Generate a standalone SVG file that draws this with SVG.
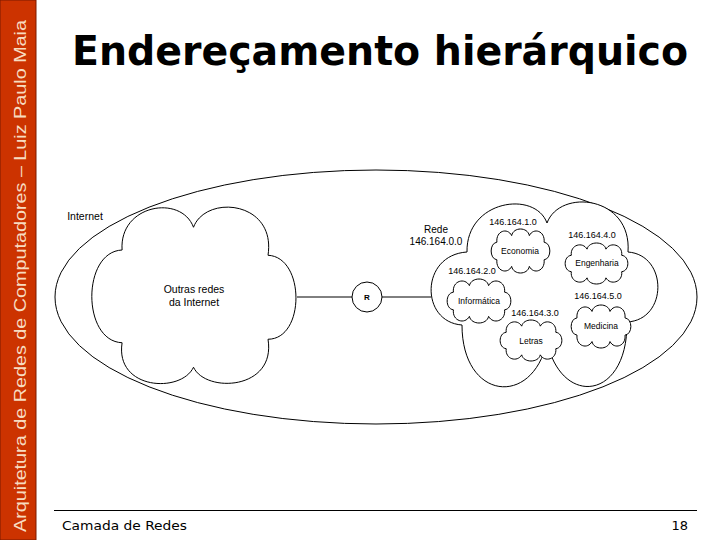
<svg xmlns="http://www.w3.org/2000/svg" xmlns:xlink="http://www.w3.org/1999/xlink" width="720" height="540" viewBox="0 0 720 540">
<style>
.ln{fill:none;stroke:#000;stroke-width:1}
.cl{fill:#fff;stroke:#000;stroke-width:1;vector-effect:non-scaling-stroke}
.t{font-family:"Liberation Sans",Arial,sans-serif;fill:#000;text-anchor:middle}
.s9{font-size:9px}
.s85{font-size:8.5px}
.s10{font-size:10.5px}
.s100{font-size:10px}
</style>
<defs>
<symbol id="bigcloud" viewBox="0 0 100 100" preserveAspectRatio="none" overflow="visible">
<path class="cl" d="M15.5,24 C14,-2 44,-8 50,11 C56,-8 90,-4 86,27 C104,28 104,75 86,75 C90,104 56,106 50,91 C44,106 12,104 15.5,77 C-4,76 -4,25 15.5,24 Z"/>
</symbol>
<symbol id="smallcloud" viewBox="0 0 100 100" preserveAspectRatio="none" overflow="visible">
<path class="cl" d="M10,30 C8,4 28,-4 35,15 C38,-5 62,-5 65,15 C72,-4 92,4 90,30 C103,32 103,68 90,70 C92,96 72,104 65,85 C62,105 38,105 35,85 C28,104 8,96 10,70 C-3,68 -3,32 10,30 Z"/>
</symbol>
</defs>
<rect width="720" height="540" fill="#fff"/>
<g id="sidebar">
<rect x="0" y="0" width="36" height="540" fill="#CC3300" stroke="#7A1A00" stroke-width="1"/>
<text transform="translate(26,532) rotate(-90)" font-family="'Liberation Sans',Arial,sans-serif" font-size="16" fill="#F7DCC0" textLength="512" lengthAdjust="spacingAndGlyphs">Arquitetura de Redes de Computadores – Luiz Paulo Maia</text>
</g>
<g id="title">
<text x="72" y="65" font-family="'DejaVu Sans',Verdana,sans-serif" font-weight="bold" font-size="40" fill="#000" textLength="616" lengthAdjust="spacingAndGlyphs">Endereçamento hierárquico</text>
</g>
<g id="internet">
<ellipse class="ln" cx="376" cy="297" rx="321" ry="127"/>
<text class="t s10" x="85" y="220">Internet</text>
</g>
<g id="connectors">
<line class="ln" x1="297" y1="297" x2="352" y2="297"/>
<line class="ln" x1="382" y1="297" x2="431" y2="297"/>
</g>
<g id="outras">
<use xlink:href="#bigcloud" x="90" y="208" width="207" height="175"/>
<text class="t s10" x="194" y="293">Outras redes</text>
<text class="t s10" x="194" y="306">da Internet</text>
</g>
<g id="router">
<circle cx="367" cy="297" r="15" fill="#fff" stroke="#000" stroke-width="1"/>
<text x="367" y="300" font-family="'Liberation Sans',Arial,sans-serif" font-size="8" font-weight="bold" text-anchor="middle">R</text>
</g>
<g id="rede">
<path class="cl" d="M467,252 C466,200 535,190 547,223 C560,188 632,196 628,252 C668,255 668,320 627,322 C628,400 562,408 547,342 C532,408 462,400 462,325 C420,322 420,255 467,252 Z"/>
<text class="t s100" x="436" y="233">Rede</text>
<text class="t s100" x="436" y="245">146.164.0.0</text>
</g>
<g id="economia">
<use xlink:href="#smallcloud" x="491" y="229" width="59" height="44"/>
<text class="t s9" x="513" y="225">146.164.1.0</text>
<text class="t s85" x="520" y="254">Economia</text>
</g>
<g id="engenharia">
<use xlink:href="#smallcloud" x="565" y="243" width="63" height="41"/>
<text class="t s9" x="592" y="238">146.164.4.0</text>
<text class="t s85" x="597" y="266">Engenharia</text>
</g>
<g id="informatica">
<use xlink:href="#smallcloud" x="447" y="279" width="64" height="44"/>
<text class="t s9" x="472" y="274">146.164.2.0</text>
<text class="t s85" x="479" y="304">Informática</text>
</g>
<g id="letras">
<use xlink:href="#smallcloud" x="500" y="320" width="62" height="41"/>
<text class="t s9" x="535" y="316">146.164.3.0</text>
<text class="t s85" x="531" y="344">Letras</text>
</g>
<g id="medicina">
<use xlink:href="#smallcloud" x="571" y="305" width="60" height="43"/>
<text class="t s9" x="598" y="299">146.164.5.0</text>
<text class="t s85" x="601" y="329">Medicina</text>
</g>
<g id="footer">
<line x1="54" y1="510.5" x2="697" y2="510.5" stroke="#000" stroke-width="1"/>
<text x="62" y="530" font-family="'DejaVu Sans',Verdana,sans-serif" font-size="13" fill="#000" textLength="125" lengthAdjust="spacingAndGlyphs">Camada de Redes</text>
<text x="688" y="530" font-family="'DejaVu Sans',Verdana,sans-serif" font-size="13" fill="#000" text-anchor="end">18</text>
</g>
</svg>
